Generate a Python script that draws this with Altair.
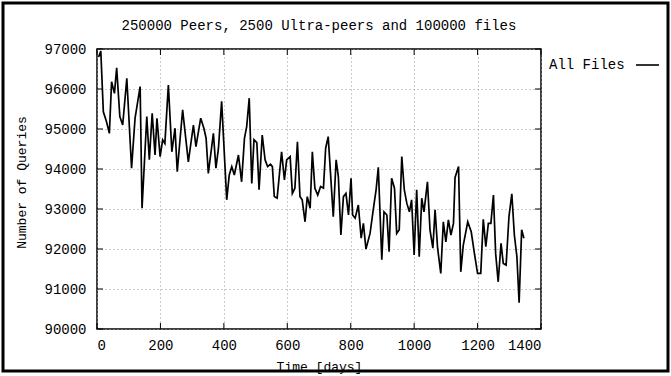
import altair as alt
import pandas as pd

# Time series: number of queries per day
days = [5, 12, 20, 30, 39, 46, 55, 62, 72, 81, 94, 109, 120, 136, 142, 157, 165, 174, 183, 189,
        199, 207, 214, 225, 236, 246, 253, 270, 288, 304, 312, 327, 337, 344, 351, 367, 375, 383, 393, 409,
        417, 425, 433, 446, 456, 465, 472, 480, 488, 495, 504, 511, 521, 530, 538, 547, 553, 559, 568, 582,
        591, 598, 609, 616, 624, 632, 640, 647, 656, 663, 672, 679, 687, 696, 705, 714, 721, 729, 745, 754,
        761, 769, 777, 785, 793, 801, 806, 814, 824, 833, 840, 848, 861, 871, 880, 887, 898, 905, 914, 921,
        929, 938, 945, 953, 961, 969, 977, 985, 992, 1000, 1008, 1016, 1024, 1031, 1042, 1050, 1059, 1066, 1074, 1084,
        1092, 1100, 1108, 1116, 1124, 1129, 1140, 1147, 1155, 1169, 1180, 1190, 1200, 1210, 1218, 1226, 1234, 1242, 1250, 1257,
        1265, 1274, 1281, 1290, 1299, 1308, 1316, 1324, 1331, 1339, 1346]
queries = [96800, 96950, 95430, 95180, 94890, 96180, 95890, 96530, 95310, 95100, 96270, 94020, 95270, 96060, 93020, 95310, 94230, 95390, 94350, 95270,
           94310, 94730, 94640, 96100, 94430, 95020, 93930, 95480, 94180, 95100, 94560, 95270, 95020, 94770, 93890, 94890, 94020, 94520, 95690, 93230,
           93850, 94060, 93850, 94350, 93680, 94770, 95060, 95770, 93640, 94730, 94660, 93480, 94850, 94230, 94060, 94120, 94060, 93310, 93270, 94430,
           93730, 94230, 94310, 93390, 93520, 94680, 93310, 93230, 92680, 93310, 93020, 94430, 93520, 93350, 93560, 93520, 94520, 94810, 92810, 94230,
           93810, 92350, 93310, 93390, 92850, 93770, 92850, 92770, 93100, 92270, 92640, 92000, 92390, 92980, 93480, 94040, 91730, 92930, 92850, 91930,
           93770, 93520, 92390, 92480, 94310, 93480, 93140, 92930, 93230, 91850, 93480, 91810, 93270, 92930, 93680, 92480, 92020, 92980, 92020, 91390,
           92680, 92180, 92730, 92350, 92640, 93790, 94060, 91430, 92100, 92680, 92430, 91890, 91390, 91390, 92740, 92060, 92640, 92640, 93350, 91890,
           91180, 92140, 91640, 91600, 92810, 93380, 92350, 91810, 90660, 92480, 92270]

series_name = ["All Files"]
x_ticks = [0, 200, 400, 600, 800, 1000, 1200, 1400]
y_ticks = [90000, 91000, 92000, 93000, 94000, 95000, 96000, 97000]

FONT = "Courier New, Courier, Liberation Mono, monospace"
W, H = 444, 280

df = pd.DataFrame({"day": days, "queries": queries})
xt = pd.DataFrame({"day": x_ticks})
yt = pd.DataFrame({"queries": y_ticks})
leg = pd.DataFrame({"series": series_name})

x_scale = alt.Scale(domain=[0, 1400], nice=False)
y_scale = alt.Scale(domain=[90000, 97000], nice=False)
x_axis = alt.Axis(values=x_ticks, format="d", title="Time [days]", titleY=37,
                  titleBaseline="middle", labelPadding=9, labelOverlap=False)
y_axis = alt.Axis(values=y_ticks, format="d", title="Number of Queries", titleX=-76, titleY=133,
                  titleBaseline="middle", labelPadding=11, labelOverlap=False, labelFlush=False)
X = alt.X("day:Q", scale=x_scale, axis=x_axis)
Y = alt.Y("queries:Q", scale=y_scale, axis=y_axis)

line = alt.Chart(df).mark_line(color="black", strokeWidth=1.7, clip=True).encode(x=X, y=Y)

# inward tick marks on all four sides of the frame
tick_bottom = alt.Chart(xt).mark_rule(color="black", strokeWidth=1).encode(
    x=X, y=alt.value(H), y2=alt.value(H - 6))
tick_top = alt.Chart(xt).mark_rule(color="black", strokeWidth=1).encode(
    x=X, y=alt.value(0), y2=alt.value(6))
tick_left = alt.Chart(yt).mark_rule(color="black", strokeWidth=1).encode(
    y=Y, x=alt.value(0), x2=alt.value(6))
tick_right = alt.Chart(yt).mark_rule(color="black", strokeWidth=1).encode(
    y=Y, x=alt.value(W), x2=alt.value(W - 6))

# key placed to the right of the plot: label followed by line sample
key_text = alt.Chart(leg).mark_text(align="left", baseline="middle", font=FONT,
                                    fontSize=14, color="black").encode(
    text="series:N", x=alt.value(452), y=alt.value(16))
key_line = alt.Chart(leg).mark_rule(color="black", strokeWidth=1.6).encode(
    x=alt.value(539), x2=alt.value(562), y=alt.value(16), detail="series:N")

# outer border around the whole figure
border = alt.Chart(leg).mark_rect(fill=None, stroke="black", strokeWidth=3).encode(
    x=alt.value(-94), x2=alt.value(571), y=alt.value(-46), y2=alt.value(322), detail="series:N")

chart = alt.layer(line, tick_bottom, tick_top, tick_left, tick_right, key_text, key_line, border).properties(
    width=W, height=H,
    background="white",
    title=alt.Title("250000 Peers, 2500 Ultra-peers and 100000 files", font=FONT, fontSize=14,
                    fontWeight="normal", color="black", anchor="middle", frame="group",
                    offset=-31),
    padding={"left": 97, "top": 49, "right": 130, "bottom": 47},
    autosize=alt.AutoSizeParams(type="none"),
).configure_view(
    stroke="black", strokeWidth=1.5
).configure_axis(
    domain=False, ticks=False, grid=True, gridColor="#999999", gridDash=[1, 3], gridWidth=1,
    labelFont=FONT, labelFontSize=14, labelColor="black",
    titleFont=FONT, titleFontSize=13, titleFontWeight="normal", titleColor="black",
)

chart.save("out.html", embed_options={"renderer": "svg", "actions": False})
